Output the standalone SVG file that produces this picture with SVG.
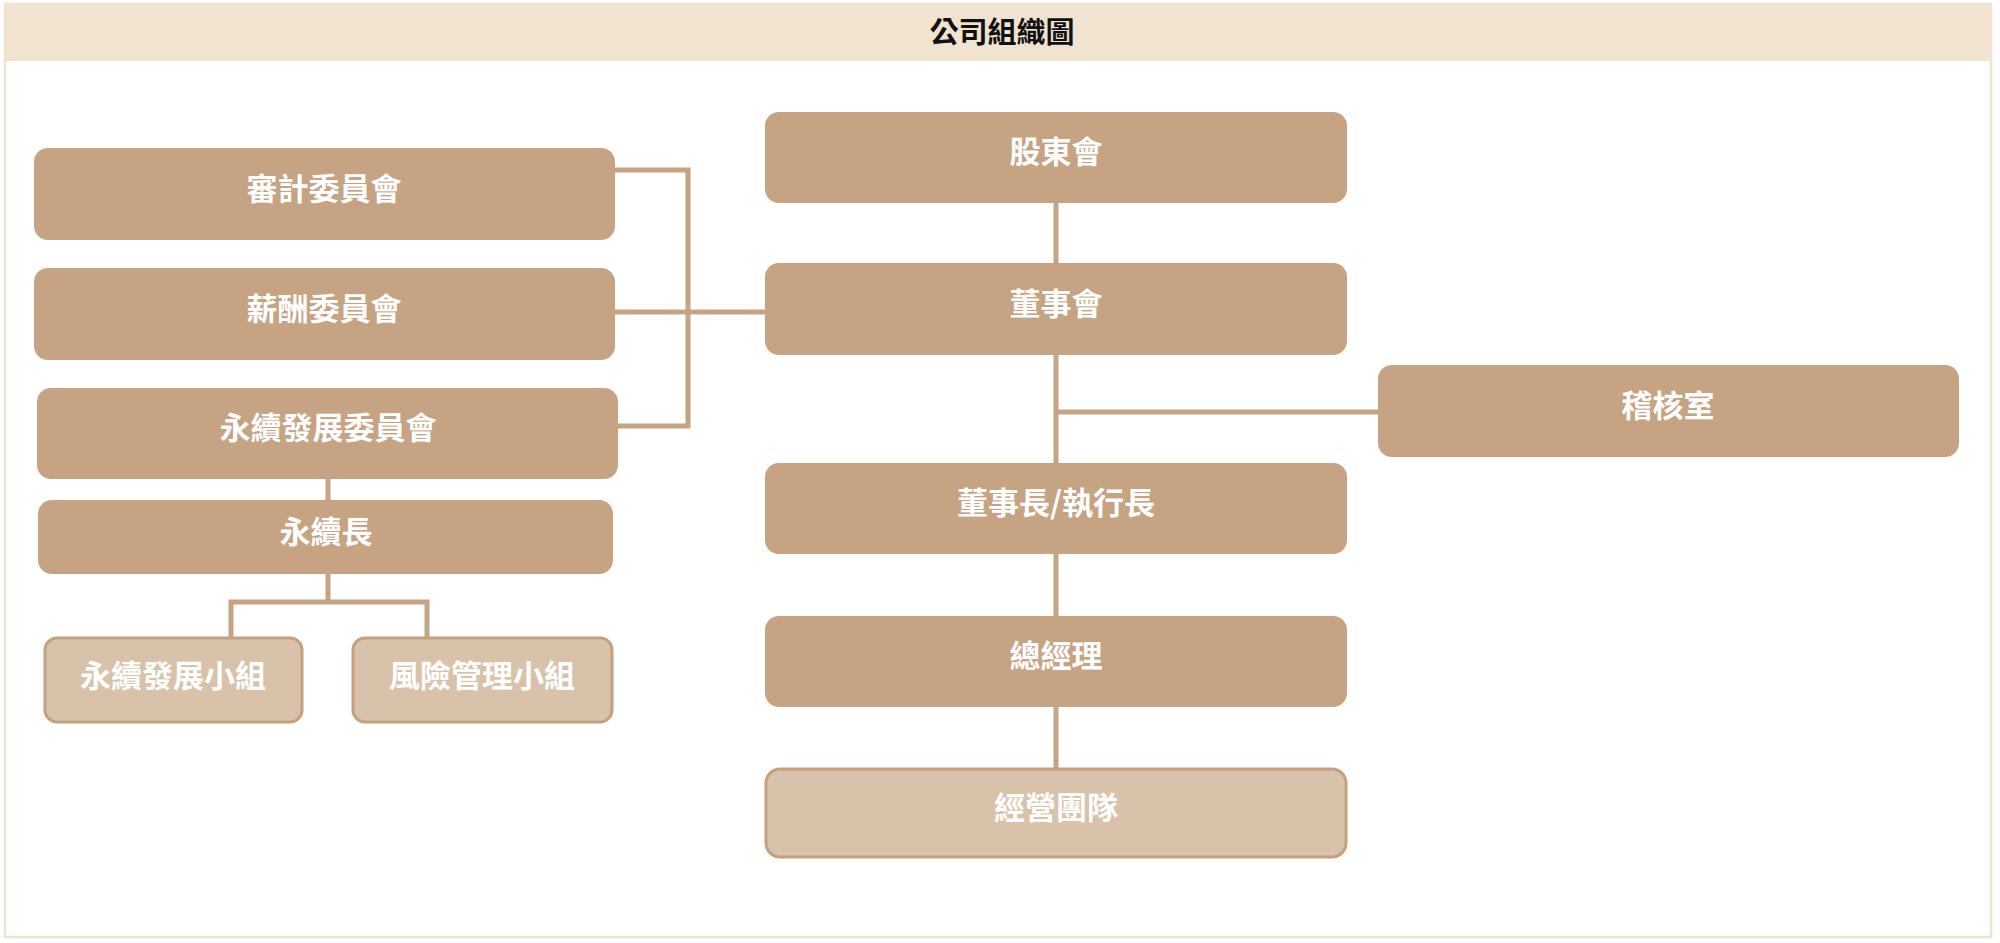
<svg xmlns="http://www.w3.org/2000/svg" width="2000" height="943" viewBox="0 0 2000 943">
  <style>
    .frame { fill: #ffffff; stroke: #f0e2cf; stroke-width: 2.5; }
    .header { fill: #f1e3d0; }
    .title { font-family: "Noto Sans CJK TC", "Noto Sans CJK SC", sans-serif; font-size: 29px; font-weight: 700; fill: #111111; text-anchor: middle; dominant-baseline: central; }
    .node rect.main { fill: #c6a382; }
    .node rect.sub { fill: #d9c2aa; stroke: #c6a07c; stroke-width: 3; }
    .node text { font-family: "Noto Sans CJK TC", "Noto Sans CJK SC", sans-serif; font-size: 31px; font-weight: 700; fill: #ffffff; text-anchor: middle; dominant-baseline: central; }
    .conn { fill: none; stroke: #c6a382; stroke-width: 5; }
  </style>

  <rect class="frame" x="5" y="4" width="1986" height="933"/>
  <rect class="header" x="5" y="4" width="1986" height="57"/>
  <text class="title" x="1002" y="30">公司組織圖</text>

  <g id="connectors">
    <path class="conn" d="M615 170 H688 V426 H618"/>
    <path class="conn" d="M615 312 H765"/>
    <path class="conn" d="M328 479 V500"/>
    <path class="conn" d="M328 574 V602"/>
    <path class="conn" d="M231 637 V602 H427 V637"/>
    <path class="conn" d="M1056 203 V263"/>
    <path class="conn" d="M1056 355 V463"/>
    <path class="conn" d="M1056 412 H1378"/>
    <path class="conn" d="M1056 554 V616"/>
    <path class="conn" d="M1056 707 V768"/>
  </g>

  <g id="audit-committee" class="node">
    <rect class="main" x="34" y="148" width="581" height="92" rx="14"/>
    <text x="324" y="186">審計委員會</text>
  </g>
  <g id="remuneration-committee" class="node">
    <rect class="main" x="34" y="268" width="581" height="92" rx="14"/>
    <text x="324" y="306">薪酬委員會</text>
  </g>
  <g id="sustainability-committee" class="node">
    <rect class="main" x="37" y="388" width="581" height="91" rx="14"/>
    <text x="328" y="425">永續發展委員會</text>
  </g>
  <g id="cso" class="node">
    <rect class="main" x="38" y="500" width="575" height="74" rx="14"/>
    <text x="326" y="529">永續長</text>
  </g>
  <g id="sustainability-team" class="node">
    <rect class="sub" x="45" y="638" width="257" height="84" rx="12"/>
    <text x="173" y="673">永續發展小組</text>
  </g>
  <g id="risk-team" class="node">
    <rect class="sub" x="353" y="638" width="259" height="84" rx="12"/>
    <text x="482" y="673">風險管理小組</text>
  </g>

  <g id="shareholders" class="node">
    <rect class="main" x="765" y="112" width="582" height="91" rx="14"/>
    <text x="1056" y="149">股東會</text>
  </g>
  <g id="board" class="node">
    <rect class="main" x="765" y="263" width="582" height="92" rx="14"/>
    <text x="1056" y="301">董事會</text>
  </g>
  <g id="chairman-ceo" class="node">
    <rect class="main" x="765" y="463" width="582" height="91" rx="14"/>
    <text x="1056" y="500">董事長/執行長</text>
  </g>
  <g id="president" class="node">
    <rect class="main" x="765" y="616" width="582" height="91" rx="14"/>
    <text x="1056" y="653">總經理</text>
  </g>
  <g id="management-team" class="node">
    <rect class="sub" x="766" y="769" width="580" height="88" rx="14"/>
    <text x="1056" y="805">經營團隊</text>
  </g>
  <g id="audit-office" class="node">
    <rect class="main" x="1378" y="365" width="581" height="92" rx="14"/>
    <text x="1668" y="403">稽核室</text>
  </g>
</svg>
